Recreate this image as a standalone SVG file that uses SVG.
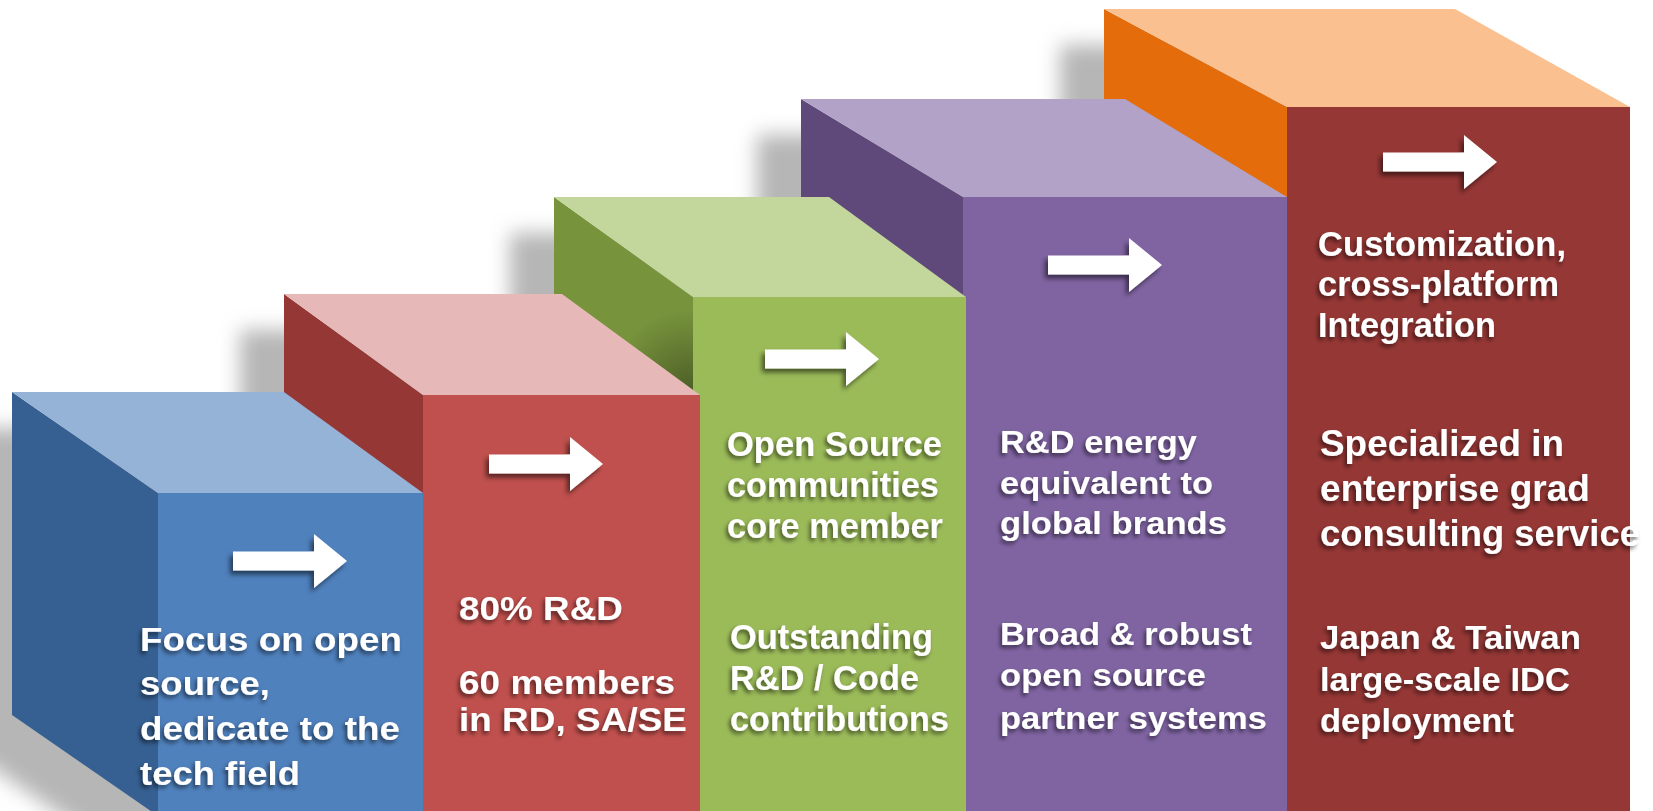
<svg xmlns="http://www.w3.org/2000/svg" width="1653" height="811" viewBox="0 0 1653 811">
  <defs>
    <style>
      .t { fill: #ffffff; font-family: "Liberation Sans", Arial, sans-serif; font-weight: bold; filter: url(#ts); }
      .arrow { fill: #ffffff; filter: url(#as); }
    </style>
    <filter id="bg" x="-30%" y="-30%" width="160%" height="160%">
      <feGaussianBlur stdDeviation="10"/>
    </filter>
    <filter id="ts" x="-10%" y="-30%" width="120%" height="160%">
      <feDropShadow dx="-2" dy="3" stdDeviation="2" flood-color="#000000" flood-opacity="0.55"/>
    </filter>
    <filter id="as" x="-20%" y="-40%" width="140%" height="180%">
      <feDropShadow dx="-3" dy="4" stdDeviation="2.5" flood-color="#000000" flood-opacity="0.55"/>
    </filter>
    <path id="arr" d="M0,0 L-33,-27 V-9.5 H-114 V9.5 H-33 V27 Z"/>
    <clipPath id="greenLeftClip">
      <polygon points="554,197 693,297 693,900 554,800"/>
    </clipPath>
    <radialGradient id="gshade" cx="690" cy="390" r="80" gradientUnits="userSpaceOnUse">
      <stop offset="0" stop-color="#000" stop-opacity="0.35"/>
      <stop offset="1" stop-color="#000" stop-opacity="0"/>
    </radialGradient>
  </defs>

  <rect width="1653" height="811" fill="#ffffff"/>

  <g id="shadows" fill="#b6b6b6" filter="url(#bg)" transform="translate(-44,36)">
    <polygon points="1104,9 1455,9 1630,107 1630,900 1104,900"/>
    <polygon points="801,99 1125,99 1287,197 1287,900 801,900"/>
    <polygon points="554,197 829,197 966,297 966,900 554,900"/>
    <polygon points="284,294 562,294 700,395 700,900 284,900"/>
    <polygon points="12,392 284,392 423,493 423,816 158,816 12,715"/>
  </g>

  <g id="block-5">
    <polygon points="1104,9 1287,107 1287,900 1104,800" fill="#E46C0A"/>
    <polygon points="1104,9 1455,9 1630,107 1287,107" fill="#FAC090"/>
    <rect x="1287" y="107" width="343" height="704" fill="#953735"/>
    <text class="t" font-size="35" x="1318" y="256" textLength="248" lengthAdjust="spacingAndGlyphs">Customization,</text>
    <text class="t" font-size="35" x="1318" y="296" textLength="241" lengthAdjust="spacingAndGlyphs">cross-platform</text>
    <text class="t" font-size="35" x="1318" y="337" textLength="178" lengthAdjust="spacingAndGlyphs">Integration</text>
    <text class="t" font-size="36" x="1320" y="456" textLength="244" lengthAdjust="spacingAndGlyphs">Specialized in</text>
    <text class="t" font-size="36" x="1320" y="501" textLength="270" lengthAdjust="spacingAndGlyphs">enterprise grad</text>
    <text class="t" font-size="36" x="1320" y="546" textLength="320" lengthAdjust="spacingAndGlyphs">consulting service</text>
    <text class="t" font-size="33" x="1320" y="649" textLength="261" lengthAdjust="spacingAndGlyphs">Japan &amp; Taiwan</text>
    <text class="t" font-size="33" x="1320" y="691" textLength="250" lengthAdjust="spacingAndGlyphs">large-scale IDC</text>
    <text class="t" font-size="33" x="1320" y="732" textLength="194" lengthAdjust="spacingAndGlyphs">deployment</text>
  </g>

  <g id="block-4">
    <polygon points="801,99 963,197 963,900 801,800" fill="#5F497A"/>
    <polygon points="801,99 1125,99 1287,197 963,197" fill="#B3A2C7"/>
    <rect x="963" y="197" width="324" height="614" fill="#8064A2"/>
    <text class="t" font-size="32" x="1000" y="453" textLength="197" lengthAdjust="spacingAndGlyphs">R&amp;D energy</text>
    <text class="t" font-size="32" x="1000" y="494" textLength="213" lengthAdjust="spacingAndGlyphs">equivalent to</text>
    <text class="t" font-size="32" x="1000" y="534" textLength="227" lengthAdjust="spacingAndGlyphs">global brands</text>
    <text class="t" font-size="32" x="1000" y="645" textLength="252" lengthAdjust="spacingAndGlyphs">Broad &amp; robust</text>
    <text class="t" font-size="32" x="1000" y="686" textLength="206" lengthAdjust="spacingAndGlyphs">open source</text>
    <text class="t" font-size="32" x="1000" y="729" textLength="267" lengthAdjust="spacingAndGlyphs">partner systems</text>
  </g>

  <g id="block-3">
    <polygon points="554,197 693,297 693,900 554,800" fill="#77933C"/>
    <rect x="554" y="197" width="140" height="300" fill="url(#gshade)" clip-path="url(#greenLeftClip)"/>
    <polygon points="554,197 829,197 966,297 693,297" fill="#C3D69B"/>
    <rect x="693" y="297" width="273" height="514" fill="#9BBB59"/>
    <text class="t" font-size="35" x="727" y="456" textLength="215" lengthAdjust="spacingAndGlyphs">Open Source</text>
    <text class="t" font-size="35" x="727" y="497" textLength="212" lengthAdjust="spacingAndGlyphs">communities</text>
    <text class="t" font-size="35" x="727" y="538" textLength="216" lengthAdjust="spacingAndGlyphs">core member</text>
    <text class="t" font-size="35" x="730" y="649" textLength="203" lengthAdjust="spacingAndGlyphs">Outstanding</text>
    <text class="t" font-size="35" x="730" y="690" textLength="189" lengthAdjust="spacingAndGlyphs">R&amp;D / Code</text>
    <text class="t" font-size="35" x="730" y="731" textLength="219" lengthAdjust="spacingAndGlyphs">contributions</text>
  </g>

  <g id="block-2">
    <polygon points="284,294 423,395 423,900 284,800" fill="#953735"/>
    <polygon points="284,294 562,294 700,395 423,395" fill="#E6B9B8"/>
    <rect x="423" y="395" width="277" height="416" fill="#C0504D"/>
    <text class="t" font-size="34" x="459" y="620" textLength="164" lengthAdjust="spacingAndGlyphs">80% R&amp;D</text>
    <text class="t" font-size="34" x="459" y="694" textLength="216" lengthAdjust="spacingAndGlyphs">60 members</text>
    <text class="t" font-size="34" x="459" y="731" textLength="228" lengthAdjust="spacingAndGlyphs">in RD, SA/SE</text>
  </g>

  <g id="block-1">
    <polygon points="12,392 158,493 158,816 12,715" fill="#366092"/>
    <polygon points="12,392 284,392 423,493 158,493" fill="#95B3D7"/>
    <rect x="158" y="493" width="265" height="318" fill="#4F81BD"/>
    <text class="t" font-size="33" x="140" y="651" textLength="262" lengthAdjust="spacingAndGlyphs">Focus on open</text>
    <text class="t" font-size="33" x="140" y="695" textLength="130" lengthAdjust="spacingAndGlyphs">source,</text>
    <text class="t" font-size="33" x="140" y="740" textLength="260" lengthAdjust="spacingAndGlyphs">dedicate to the</text>
    <text class="t" font-size="33" x="140" y="785" textLength="160" lengthAdjust="spacingAndGlyphs">tech field</text>
  </g>

  <g id="arrows">
    <use href="#arr" class="arrow" transform="translate(347,561)"/>
    <use href="#arr" class="arrow" transform="translate(603,464)"/>
    <use href="#arr" class="arrow" transform="translate(879,359)"/>
    <use href="#arr" class="arrow" transform="translate(1162,265)"/>
    <use href="#arr" class="arrow" transform="translate(1497,162)"/>
  </g>
</svg>
